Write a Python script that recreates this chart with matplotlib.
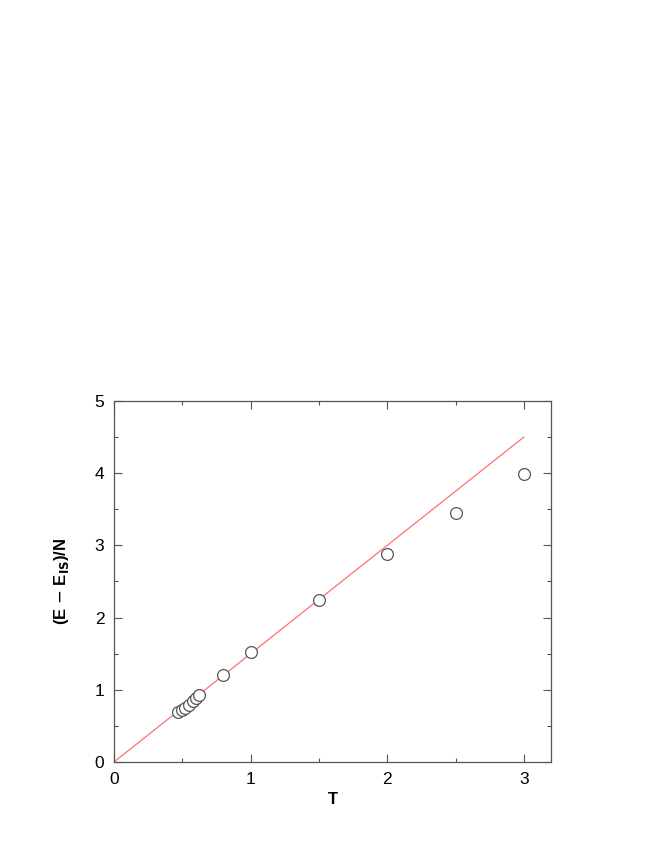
import numpy as np
import matplotlib.pyplot as plt
from matplotlib.ticker import MultipleLocator

plt.rcParams['font.family'] = ['Liberation Sans', 'DejaVu Sans']

# data
T = [0.47, 0.50, 0.52, 0.55, 0.58, 0.60, 0.625, 0.80, 1.0, 1.5, 2.0, 2.5, 3.0]
E = [0.69, 0.72, 0.75, 0.79, 0.84, 0.88, 0.93, 1.20, 1.53, 2.24, 2.88, 3.45, 3.99]

# harmonic line (3/2) T
T_line = [0.0, 3.0]
slope = 1.5

fig = plt.figure(figsize=(6.64, 8.6), dpi=100)
ax = fig.add_axes([0.1717, 0.114, 0.6583, 0.4197])

ax.plot(T_line, [slope * t for t in T_line], color='#ff7070', lw=0.9, zorder=1)
ax.plot(T, E, 'o', ms=8.5, mfc='white', mec='#555555', mew=0.9, zorder=2)

ax.set_xlim(0, 3.2)
ax.set_ylim(0, 5)
ax.xaxis.set_major_locator(MultipleLocator(1))
ax.xaxis.set_minor_locator(MultipleLocator(0.5))
ax.yaxis.set_major_locator(MultipleLocator(1))
ax.yaxis.set_minor_locator(MultipleLocator(0.5))
ax.tick_params(which='both', direction='in', top=True, right=True,
               color='#555555', labelsize=12.5)
ax.tick_params(which='major', length=6, width=0.8, pad=7)
ax.tick_params(which='minor', length=3, width=0.8)
for s in ax.spines.values():
    s.set_color('#555555')
    s.set_linewidth(0.9)

ax.set_xlabel('T', fontsize=12, fontweight='bold', labelpad=4)
ax.set_ylabel(r'(E $-$ E$_{\mathbf{IS}}$)/N', fontsize=12, fontweight='bold', labelpad=17)

fig.savefig('out.png', dpi=100)
